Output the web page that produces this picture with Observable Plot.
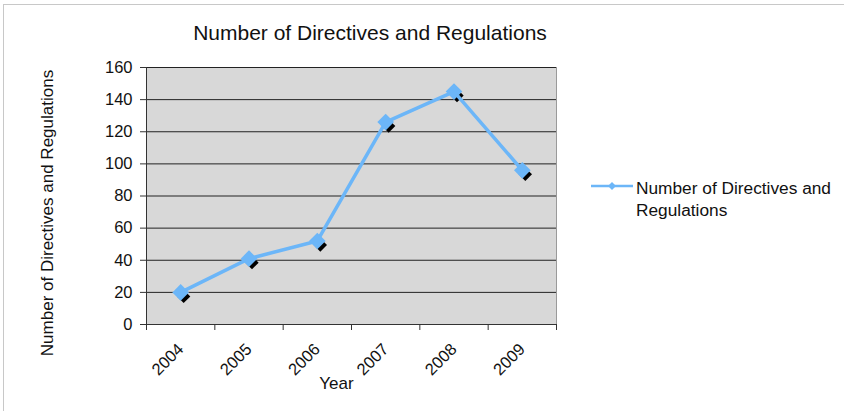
<!DOCTYPE html>
<html>
<head>
<meta charset="utf-8">
<script src="https://cdn.jsdelivr.net/npm/d3@7"></script>
<script src="https://cdn.jsdelivr.net/npm/@observablehq/plot@0.6"></script>
<style>
  html, body { margin: 0; padding: 0; background: #fff; }
  #chart { position: relative; width: 844px; height: 411px; font-family: "Liberation Sans", Arial, sans-serif; color: #111; }
  #border { position: absolute; left: 3px; top: 4px; right: -2px; bottom: -2px; border-left: 1px solid #c8c8c8; border-top: 1px solid #c8c8c8; pointer-events: none; }
  #title { position: absolute; left: 0; width: 740px; top: 21px; text-align: center; font-size: 21px; }
  #legend { position: absolute; left: 591px; top: 177px; font-size: 17.3px; line-height: 22px; }
  #legend svg { position: absolute; left: 0; top: 2px; }
  #legend span { position: absolute; left: 45px; top: 0; white-space: nowrap; }
</style>
</head>
<body>
<div id="chart">
  <div id="border"></div>
  <div id="title">Number of Directives and Regulations</div>
  <div id="legend">
    <svg width="44" height="14"><line x1="0" y1="7" x2="42" y2="7" stroke="#6cb6f8" stroke-width="2.5"/><path d="M21,3 L25,7 L21,11 L17,7 Z" fill="#6cb6f8"/></svg>
    <span>Number of Directives and<br>Regulations</span>
  </div>
</div>
<script>
// Yearly counts of EU directives and regulations
const years = [2004, 2005, 2006, 2007, 2008, 2009];
const counts = [20, 41, 52, 126, 145, 96];
const yTicks = [0, 20, 40, 60, 80, 100, 120, 140, 160];

const data = years.map((year, i) => ({year, count: counts[i]}));
// category boundaries, where the x-axis tick marks sit
const bounds = years.map(y => y - 0.5).concat([years[years.length - 1] + 0.5]);

const lineColor = "#6cb6f8";

const plot = Plot.plot({
  width: 844,
  height: 411,
  marginLeft: 146,
  marginRight: 288,
  marginTop: 67,
  marginBottom: 87,
  style: {fontFamily: "Liberation Sans, Arial, sans-serif", fontSize: "16px", color: "#111", background: "transparent"},
  x: {domain: [bounds[0], bounds[bounds.length - 1]]},
  y: {domain: [0, 160]},
  marks: [
    Plot.frame({fill: "#d8d8d8", stroke: "#9a9a9a"}),
    Plot.gridY(yTicks, {stroke: "#222", strokeOpacity: 1, strokeWidth: 1}),
    Plot.axisY({ticks: yTicks, tickSize: 6, tickPadding: 8, stroke: "#333", fontSize: 16.5, label: null}),
    Plot.ruleX([bounds[0]], {stroke: "#333", y1: 0, y2: 160}),
    Plot.ruleY([0], {stroke: "#333"}),
    Plot.axisX({ticks: bounds, tickSize: 6, tickFormat: () => "", stroke: "#333", label: null}),
    Plot.axisX({ticks: years, tickSize: 0, tickRotate: -45, tickPadding: 22, tickFormat: d => String(d), fontSize: 16.5, label: null}),
    Plot.text(["Year"], {frameAnchor: "bottom", dy: 64, dx: -15, fontSize: 17, fill: "#111"}),
    Plot.text(["Number of Directives and Regulations"], {frameAnchor: "left", textAnchor: "middle", rotate: -90, dx: -99, dy: 17, fontSize: 17, fill: "#111"}),
    // shadow markers
    Plot.dot(data, {x: "year", y: "count", symbol: "diamond2", r: 6, fill: "#000", dx: 3, dy: 4}),
    Plot.line(data, {x: "year", y: "count", stroke: lineColor, strokeWidth: 3.5}),
    Plot.dot(data, {x: "year", y: "count", symbol: "diamond2", r: 7.5, fill: lineColor})
  ]
});
plot.style.position = "absolute";
plot.style.left = "0";
plot.style.top = "0";
document.getElementById("chart").appendChild(plot);
</script>
</body>
</html>
